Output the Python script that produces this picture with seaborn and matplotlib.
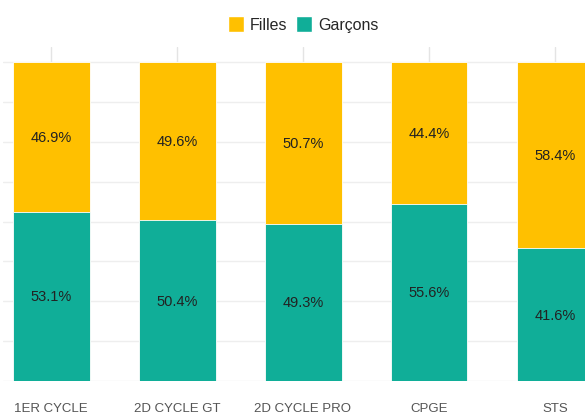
import numpy as np
import pandas as pd
import matplotlib
matplotlib.use("Agg")
import matplotlib.pyplot as plt
from matplotlib.patches import Patch
import seaborn as sns

# data
categories = ["1ER CYCLE", "2D CYCLE GT", "2D CYCLE PRO", "CPGE", "STS"]
garcons = [53.1, 50.4, 49.3, 55.6, 41.6]
filles = [46.9, 49.6, 50.7, 44.4, 58.4]

col_filles = "#FFC000"
col_garcons = "#10AE98"

df = pd.DataFrame({"cat": categories, "garcons": garcons, "filles": filles})
df["total"] = df["garcons"] + df["filles"]

sns.set_style("white")
plt.rcParams['font.family'] = ['Liberation Sans', 'DejaVu Sans']

fig = plt.figure(figsize=(5.85, 4.14), dpi=100)
ax = fig.add_axes([3 / 585, 1 - 382 / 414, 582 / 585, (382 - 48) / 414])

bw = 77 / 126
# filles stacked on top of garcons: draw total first, then garcons over it
sns.barplot(data=df, x="cat", y="total", color=col_filles, width=bw,
            saturation=1, edgecolor="white", linewidth=0.6, ax=ax, zorder=2)
sns.barplot(data=df, x="cat", y="garcons", color=col_garcons, width=bw,
            saturation=1, edgecolor="white", linewidth=0.6, ax=ax, zorder=3)

for i, row in df.iterrows():
    ax.text(i, row["garcons"] / 2, f"{row['garcons']:.1f}%", ha="center",
            va="center", fontsize=10.5, color="#222222", zorder=4)
    ax.text(i, row["garcons"] + row["filles"] / 2, f"{row['filles']:.1f}%",
            ha="center", va="center", fontsize=10.5, color="#222222", zorder=4)

ax.set_xlim((3 - 51) / 126, (585 - 51) / 126)
ax.set_ylim(0, 100 * (382 - 48) / 319)
ax.set_yticks(np.arange(0, 100.1, 12.5))
ax.set_yticklabels([])
ax.tick_params(axis="y", length=0)
ax.grid(axis="y", color="#EEEEEE", linewidth=1, zorder=0)
for i in range(len(categories)):
    ax.axvline(i, color="#E4E4E4", linewidth=1, zorder=0)
ax.set_axisbelow(True)

ax.set_xlabel("")
ax.set_ylabel("")
ax.tick_params(axis="x", length=10, width=1, color="#E0E0E0", pad=5,
               labelsize=9.5, labelcolor="#555555", direction="out")
for s in ax.spines.values():
    s.set_visible(False)

handles = [Patch(facecolor=col_filles, label="Filles"),
           Patch(facecolor=col_garcons, label="Garçons")]
fig.legend(handles=handles, loc="upper center", bbox_to_anchor=(0.518, 0.993),
           ncol=2, frameon=False, fontsize=11.5, handlelength=1.0,
           handleheight=1.1, handletextpad=0.4, columnspacing=0.5)

fig.savefig("out.png", dpi=100)
